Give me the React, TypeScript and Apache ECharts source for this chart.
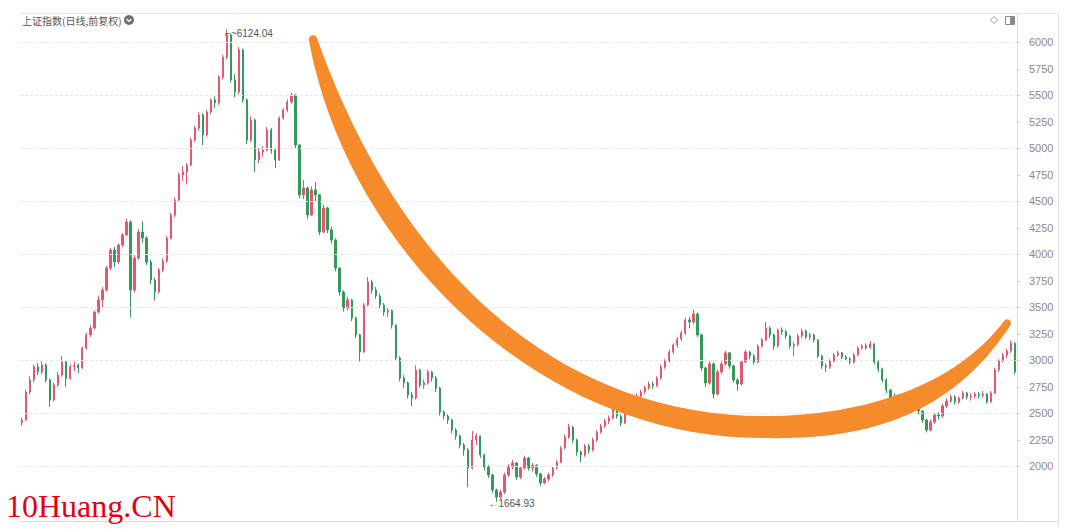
import React, { useEffect, useRef } from "react";
import * as echarts from "echarts";

// ---- data ----
const chartTitle = "上证指数(日线,前复权)";
const watermark = "10Huang.CN";

// [open, close, low, high]
const ohlc: [number, number, number, number][] = [
  [2410, 2437, 2380, 2460], [2437, 2700, 2425, 2720], [2700, 2815, 2680, 2850], [2815, 2938, 2790, 2960],
  [2938, 2890, 2860, 2975], [2890, 2955, 2870, 2990], [2955, 2815, 2790, 2970], [2815, 2625, 2560, 2830],
  [2625, 2766, 2610, 2790], [2766, 2860, 2750, 2890], [2860, 2985, 2845, 3040], [2985, 2830, 2750, 3000],
  [2830, 2938, 2815, 2960], [2938, 2955, 2900, 2990], [2955, 2928, 2880, 2970], [2928, 3115, 2920, 3130],
  [3115, 3240, 3100, 3260], [3240, 3305, 3220, 3330], [3305, 3455, 3290, 3470], [3455, 3570, 3440, 3610],
  [3570, 3663, 3500, 3690], [3663, 3870, 3650, 3890], [3870, 4040, 3850, 4060], [4040, 3927, 3880, 4070],
  [3927, 4088, 3910, 4100], [4088, 4182, 4070, 4200], [4182, 4305, 4170, 4335], [4305, 3663, 3404, 4320],
  [3663, 3965, 3640, 3990], [3965, 4210, 3950, 4240], [4210, 4153, 4110, 4312], [4153, 3927, 3900, 4170],
  [3927, 3757, 3720, 3950], [3757, 3644, 3563, 3780], [3644, 3852, 3630, 3870], [3852, 3937, 3830, 3960],
  [3937, 4153, 3920, 4170], [4153, 4370, 4140, 4390], [4370, 4512, 4350, 4540], [4512, 4748, 4500, 4770],
  [4748, 4776, 4690, 4830], [4776, 4842, 4660, 4860], [4842, 5078, 4830, 5100], [5078, 5191, 5060, 5210],
  [5191, 5314, 5170, 5340], [5314, 5125, 5030, 5330], [5125, 5342, 5110, 5360], [5342, 5456, 5320, 5470],
  [5456, 5428, 5380, 5490], [5428, 5673, 5410, 5690], [5673, 5861, 5650, 5880], [5861, 6069, 5840, 6124.04],
  [6069, 5644, 5620, 6080], [5644, 5531, 5480, 5700], [5531, 5927, 5510, 5955], [5927, 5456, 5430, 5940],
  [5456, 5078, 5040, 5470], [5078, 5267, 5060, 5300], [5267, 4890, 4778, 5280], [4890, 4965, 4860, 5000],
  [4965, 4984, 4920, 5020], [4984, 5173, 4970, 5200], [5173, 4984, 4950, 5190], [4984, 4890, 4812, 5000],
  [4890, 5286, 4880, 5300], [5286, 5361, 5270, 5380], [5361, 5437, 5340, 5460], [5437, 5503, 5420, 5522],
  [5503, 5031, 5000, 5510], [5031, 4560, 4530, 5040], [4560, 4626, 4520, 4700], [4626, 4371, 4330, 4640],
  [4371, 4607, 4360, 4640], [4607, 4560, 4500, 4680], [4560, 4210, 4180, 4570], [4210, 4437, 4200, 4470],
  [4437, 4229, 4200, 4450], [4229, 4135, 4100, 4260], [4135, 3870, 3840, 4150], [3870, 3644, 3610, 3880],
  [3644, 3493, 3460, 3660], [3493, 3569, 3470, 3600], [3569, 3399, 3370, 3580], [3399, 3240, 3210, 3410],
  [3240, 3079, 2990, 3250], [3079, 3522, 3070, 3540], [3522, 3738, 3510, 3786], [3738, 3663, 3630, 3760],
  [3663, 3607, 3580, 3690], [3607, 3522, 3490, 3630], [3522, 3455, 3420, 3540], [3455, 3470, 3410, 3500],
  [3470, 3333, 3300, 3480], [3333, 3022, 3000, 3340], [3022, 2833, 2800, 3040], [2833, 2786, 2740, 2860],
  [2786, 2673, 2640, 2800], [2673, 2644, 2566, 2700], [2644, 2908, 2630, 2952], [2908, 2766, 2740, 2920],
  [2766, 2790, 2730, 2820], [2790, 2890, 2770, 2910], [2890, 2833, 2800, 2900], [2833, 2739, 2700, 2850],
  [2739, 2512, 2480, 2750], [2512, 2474, 2440, 2530], [2474, 2437, 2400, 2490], [2437, 2342, 2310, 2450],
  [2342, 2286, 2250, 2360], [2286, 2201, 2170, 2300], [2201, 2154, 2100, 2220], [2154, 1984, 1802, 2170],
  [1984, 2248, 1970, 2333], [2248, 2286, 2200, 2310], [2286, 2107, 2080, 2290], [2107, 1994, 1960, 2120],
  [1994, 1918, 1890, 2010], [1918, 1776, 1750, 1930], [1776, 1710, 1664.93, 1790], [1710, 1757, 1690, 1780],
  [1757, 1918, 1740, 1940], [1918, 1994, 1900, 2020], [1994, 2031, 1970, 2060], [2031, 1899, 1870, 2040],
  [1899, 1984, 1880, 2000], [1984, 2078, 1970, 2100], [2078, 1984, 1960, 2090], [1984, 2010, 1950, 2030],
  [2010, 1927, 1900, 2020], [1927, 1843, 1814, 1940], [1843, 1880, 1830, 1900], [1880, 1918, 1860, 1940],
  [1918, 1984, 1900, 2000], [1984, 2040, 1970, 2060], [2040, 2172, 2030, 2190], [2172, 2276, 2160, 2300],
  [2276, 2370, 2260, 2400], [2370, 2248, 2220, 2380], [2248, 2135, 2100, 2260], [2135, 2107, 2037, 2150],
  [2107, 2192, 2090, 2210], [2192, 2154, 2120, 2210], [2154, 2248, 2140, 2270], [2248, 2323, 2230, 2340],
  [2323, 2380, 2310, 2400], [2380, 2427, 2360, 2450], [2427, 2455, 2400, 2480], [2455, 2531, 2440, 2560],
  [2531, 2474, 2450, 2540], [2474, 2408, 2380, 2490], [2408, 2521, 2400, 2540], [2521, 2578, 2500, 2600],
  [2578, 2635, 2560, 2650], [2635, 2663, 2610, 2690], [2663, 2701, 2640, 2720], [2701, 2739, 2680, 2760],
  [2739, 2776, 2720, 2800], [2776, 2760, 2730, 2800], [2760, 2833, 2750, 2850], [2833, 2937, 2820, 2960],
  [2937, 2994, 2920, 3010], [2994, 3079, 2980, 3100], [3079, 3145, 3060, 3160], [3145, 3201, 3120, 3220],
  [3201, 3258, 3180, 3280], [3258, 3380, 3240, 3400], [3380, 3361, 3300, 3410], [3361, 3437, 3340, 3478],
  [3437, 3239, 3220, 3450], [3239, 2928, 2900, 3250], [2928, 2786, 2750, 2940], [2786, 2966, 2770, 2990],
  [2966, 2682, 2639, 2980], [2682, 2890, 2670, 2910], [2890, 2966, 2870, 2990], [2966, 3070, 2950, 3090],
  [3070, 2947, 2920, 3080], [2947, 2814, 2790, 2960], [2814, 2776, 2712, 2830], [2776, 2984, 2760, 3000],
  [2984, 3079, 2970, 3100], [3079, 3041, 3010, 3090], [3041, 2984, 2960, 3060], [2984, 3135, 2970, 3150],
  [3135, 3192, 3120, 3210], [3192, 3305, 3180, 3361], [3305, 3239, 3210, 3320], [3239, 3135, 3100, 3250],
  [3135, 3286, 3120, 3300], [3286, 3270, 3240, 3310], [3270, 3230, 3200, 3290], [3230, 3135, 3110, 3240],
  [3135, 3150, 3040, 3170], [3150, 3230, 3130, 3250], [3230, 3277, 3210, 3300], [3277, 3220, 3200, 3290],
  [3220, 3239, 3190, 3260], [3239, 3192, 3170, 3250], [3192, 3041, 3020, 3200], [3041, 2947, 2920, 3050],
  [2947, 2937, 2890, 2970], [2937, 2994, 2920, 3010], [2994, 3050, 2980, 3070], [3050, 3070, 3030, 3090],
  [3070, 3031, 3010, 3080], [3031, 3012, 2990, 3050], [3012, 2984, 2960, 3030], [2984, 3050, 2970, 3070],
  [3050, 3116, 3040, 3130], [3116, 3135, 3100, 3150], [3135, 3120, 3100, 3160], [3120, 3154, 3110, 3181],
  [3154, 2984, 2960, 3160], [2984, 2918, 2890, 3000], [2918, 2814, 2790, 2930], [2814, 2720, 2690, 2830],
  [2720, 2644, 2610, 2730], [2644, 2663, 2620, 2690], [2663, 2654, 2620, 2680], [2654, 2607, 2580, 2670],
  [2607, 2541, 2510, 2620], [2541, 2560, 2520, 2580], [2560, 2550, 2520, 2590], [2550, 2522, 2490, 2570],
  [2522, 2437, 2410, 2530], [2437, 2342, 2319, 2450], [2342, 2418, 2330, 2440], [2418, 2484, 2400, 2500],
  [2484, 2474, 2440, 2510], [2474, 2569, 2460, 2590], [2569, 2616, 2550, 2640], [2616, 2654, 2600, 2680],
  [2654, 2607, 2580, 2670], [2607, 2644, 2590, 2660], [2644, 2692, 2630, 2710], [2692, 2654, 2630, 2700],
  [2654, 2663, 2620, 2690], [2663, 2682, 2640, 2700], [2682, 2670, 2640, 2700], [2670, 2682, 2650, 2710],
  [2682, 2607, 2590, 2690], [2607, 2692, 2600, 2710], [2692, 2909, 2680, 2930], [2909, 2994, 2890, 3010],
  [2994, 3050, 2980, 3070], [3050, 3088, 3020, 3110], [3088, 3160, 3070, 3186], [3160, 2890, 2870, 3170],
];

const categories: string[] = ohlc.map((_, i) => `D${i + 1}`);

const yTickValues = [2000, 2250, 2500, 2750, 3000, 3250, 3500, 3750, 4000, 4250, 4500, 4750, 5000, 5250, 5500, 5750, 6000];
const gridValues = [2000, 2500, 3000, 3500, 4000, 4500, 5000, 5500, 6000];

const highIndex = 51;
const highValue = 6124.04;
const lowIndex = 118;
const lowValue = 1664.93;

// ---- decoration: hand-drawn orange "smile" band (SVG outline, pixels) ----
const bandPath =
  "M 317 38 C 400 273 560 416 765 416 C 865 416 956 385 1004 321 " +
  "C 1007.3 316.6 1013.3 321.6 1010 326 " +
  "C 948 420 860 440 765 438 C 540 440 348 250 309 41 " +
  "C 307.2 35.8 315.2 32.8 317 38 Z";

const UP = "#e5566f";
const DOWN = "#339b58";

let registered = false;
function registerBand() {
  if (registered) return;
  echarts.graphic.registerShape("smileBand", echarts.graphic.extendPath(bandPath, {}));
  registered = true;
}

export default function App() {
  const ref = useRef<HTMLDivElement>(null);

  useEffect(() => {
    if (!ref.current) return;
    registerBand();
    const chart = echarts.init(ref.current, undefined, { renderer: "svg" });
    const option: any = {
      animation: false,
      backgroundColor: "#ffffff",
      grid: { left: 20, right: 63, top: 13, bottom: 9 },
      xAxis: {
        type: "category",
        data: categories,
        boundaryGap: true,
        axisLine: { show: false },
        axisTick: { show: false },
        axisLabel: { show: false },
        splitLine: { show: false },
      },
      yAxis: {
        type: "value",
        position: "right",
        min: 1484,
        max: 6276,
        axisLine: { show: true, lineStyle: { color: "#dedede" } },
        axisTick: { show: true, length: 3, inside: false, lineStyle: { color: "#cfcfcf" }, customValues: yTickValues },
        axisLabel: {
          color: "#8a8a8a",
          fontSize: 11,
          fontFamily: "Liberation Sans, Arial, sans-serif",
          margin: 12,
          customValues: yTickValues,
          formatter: (v: number) => String(v),
        },
        splitLine: { show: false },
      },
      series: [
        {
          type: "candlestick",
          data: ohlc,
          barWidth: "45%",
          itemStyle: {
            color: UP,
            color0: DOWN,
            borderColor: UP,
            borderColor0: DOWN,
            borderWidth: 1,
          },
          markLine: {
            silent: true,
            symbol: "none",
            label: { show: false },
            lineStyle: { type: [3, 2], color: "#e6e6e6", width: 1 },
            data: gridValues.map((v) => ({ yAxis: v })),
          },
          markPoint: {
            silent: true,
            symbol: "circle",
            symbolSize: 0,
            label: {
              show: true,
              color: "#555",
              fontSize: 10,
              fontFamily: "Liberation Sans, Arial, sans-serif",
              position: "right",
              distance: 0,
            },
            data: [
              { coord: [categories[highIndex], highValue], label: { formatter: "\u2310~" + highValue.toFixed(2), offset: [-2, 4] } },
              { coord: [categories[lowIndex], lowValue], label: { formatter: "\u2190" + lowValue.toFixed(2), offset: [-8, 2] } },
            ],
          },
        },
      ],
      graphic: [
        { type: "line", z: 1, shape: { x1: 20, y1: 13.5, x2: 1058, y2: 13.5 }, style: { stroke: "#e6e6e6", lineWidth: 1 } },
        { type: "line", z: 1, shape: { x1: 20, y1: 521.5, x2: 1058, y2: 521.5 }, style: { stroke: "#d9d9d9", lineWidth: 1 } },
        { type: "line", z: 1, shape: { x1: 1058.5, y1: 13, x2: 1058.5, y2: 528 }, style: { stroke: "#e2e2e2", lineWidth: 1 } },
        {
          type: "text",
          z: 10,
          x: 22,
          y: 20,
          style: { text: chartTitle, fill: "#555", font: '10px "Noto Sans CJK SC", sans-serif', verticalAlign: "middle" },
        },
        { type: "circle", z: 10, shape: { cx: 129, cy: 20, r: 5 }, style: { fill: "#6e6e6e" } },
        {
          type: "polyline",
          z: 11,
          shape: { points: [[126.6, 19], [129, 21.4], [131.4, 19]] },
          style: { stroke: "#ffffff", lineWidth: 1.3, fill: "none" },
        },
        {
          type: "polygon",
          z: 10,
          shape: { points: [[994, 16.5], [997.5, 20], [994, 23.5], [990.5, 20]] },
          style: { stroke: "#9a9a9a", fill: "#ffffff", lineWidth: 1 },
        },
        { type: "rect", z: 10, shape: { x: 1005.5, y: 16.5, width: 9, height: 8 }, style: { stroke: "#8a8a8a", fill: "#ffffff", lineWidth: 1 } },
        { type: "rect", z: 11, shape: { x: 1010, y: 16.5, width: 4.5, height: 8 }, style: { fill: "#8a8a8a" } },
        {
          type: "smileBand",
          z: 100,
          x: 0,
          y: 0,
          style: { fill: "#f68b2c" },
        },
        {
          type: "text",
          z: 100,
          x: 6,
          y: 506,
          style: { text: watermark, fill: "#e5000f", font: '32px "Liberation Serif", "Times New Roman", serif', verticalAlign: "middle" },
        },
      ],
    };
    chart.setOption(option);
    return () => chart.dispose();
  }, []);

  return <div ref={ref} style={{ position: "absolute", left: 0, top: 0, width: 1080, height: 530 }} />;
}
